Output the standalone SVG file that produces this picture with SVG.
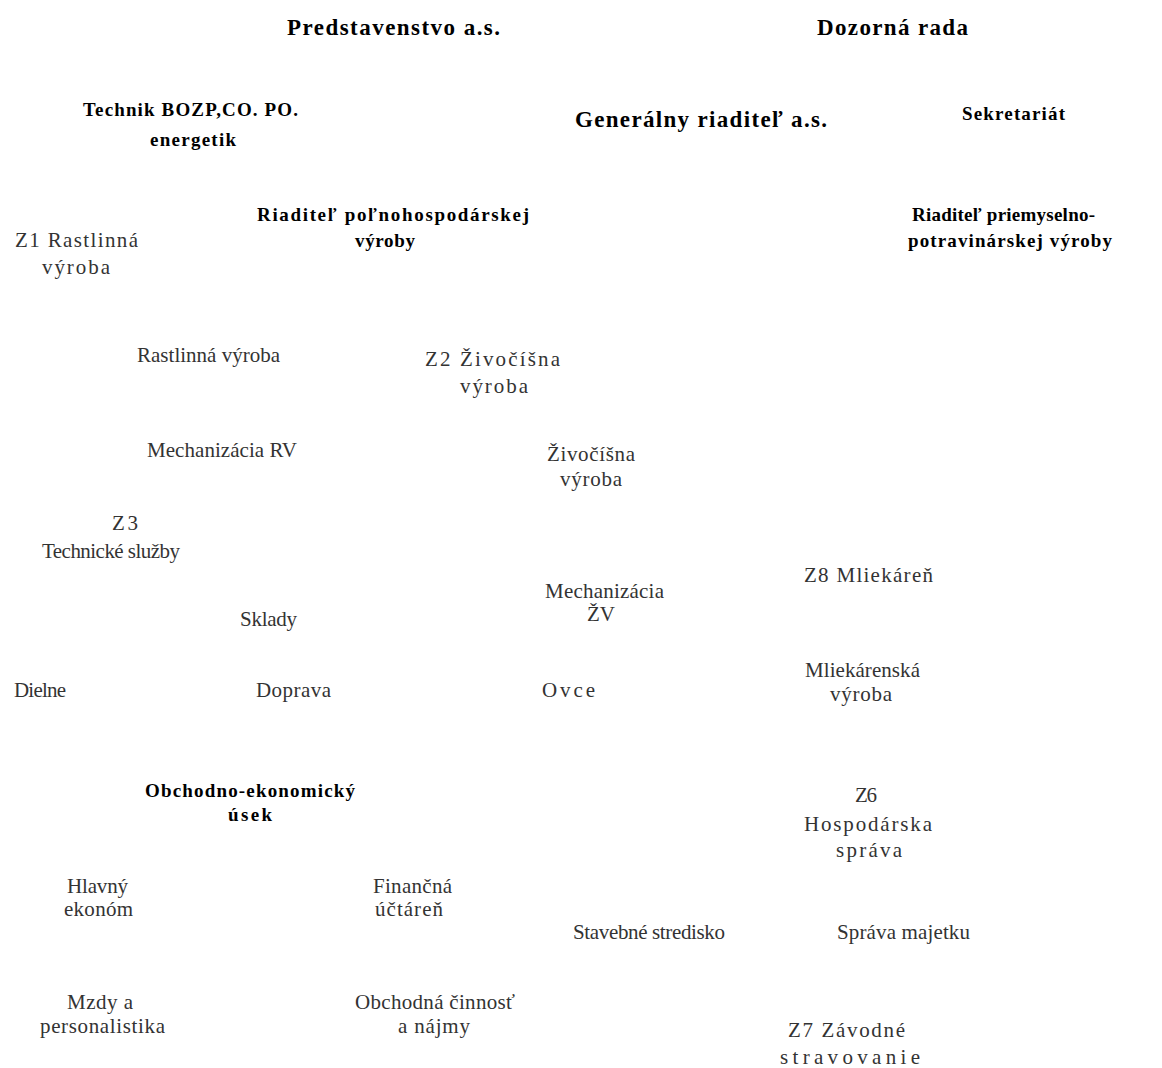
<svg xmlns="http://www.w3.org/2000/svg" width="1162" height="1068" viewBox="0 0 1162 1068">
<style>
text{font-family:"Liberation Serif","Times New Roman",serif;text-anchor:middle}
.h{font-weight:bold;font-size:23px;fill:#000}
.b{font-weight:bold;font-size:19px;fill:#000}
.r{font-size:21px;fill:#333}
</style>
<rect width="1162" height="1068" fill="#fff"/>
<g id="connectors"/>
<g id="predstavenstvo"><text class="h" x="393.5" y="35" textLength="213" lengthAdjust="spacing">Predstavenstvo a.s.</text></g>
<g id="dozorna-rada"><text class="h" x="892.5" y="35" textLength="151" lengthAdjust="spacing">Dozorná rada</text></g>
<g id="technik"><text class="b" x="190.5" y="116" textLength="215" lengthAdjust="spacing">Technik BOZP,CO. PO.</text><text class="b" x="193" y="146" textLength="86" lengthAdjust="spacing">energetik</text></g>
<g id="gen-riaditel"><text class="h" x="701" y="127" textLength="252" lengthAdjust="spacing">Generálny riaditeľ a.s.</text></g>
<g id="sekretariat"><text class="b" x="1013.5" y="120" textLength="103" lengthAdjust="spacing">Sekretariát</text></g>
<g id="riaditel-pol"><text class="b" x="393" y="221" textLength="272" lengthAdjust="spacing">Riaditeľ poľnohospodárskej</text><text class="b" x="385" y="247" textLength="60" lengthAdjust="spacing">výroby</text></g>
<g id="z1"><text class="r" x="76.5" y="247" textLength="123" lengthAdjust="spacing">Z1 Rastlinná</text><text class="r" x="76" y="274" textLength="68" lengthAdjust="spacing">výroba</text></g>
<g id="riaditel-prie"><text class="b" x="1003.5" y="221" textLength="183" lengthAdjust="spacing">Riaditeľ priemyselno-</text><text class="b" x="1010" y="247" textLength="204" lengthAdjust="spacing">potravinárskej výroby</text></g>
<g id="rastlinna-vyroba"><text class="r" x="208.5" y="362" textLength="143" lengthAdjust="spacing">Rastlinná výroba</text></g>
<g id="z2"><text class="r" x="492.5" y="366" textLength="135" lengthAdjust="spacing">Z2 Živočíšna</text><text class="r" x="494" y="393" textLength="68" lengthAdjust="spacing">výroba</text></g>
<g id="mechanizacia-rv"><text class="r" x="222" y="457" textLength="150" lengthAdjust="spacing">Mechanizácia RV</text></g>
<g id="zivocisna-vyroba"><text class="r" x="591" y="461" textLength="88" lengthAdjust="spacing">Živočíšna</text><text class="r" x="591" y="486" textLength="62" lengthAdjust="spacing">výroba</text></g>
<g id="z3"><text class="r" x="125" y="530" textLength="26" lengthAdjust="spacing">Z3</text><text class="r" x="111" y="558" textLength="138" lengthAdjust="spacing">Technické služby</text></g>
<g id="mechanizacia-zv"><text class="r" x="604.5" y="598" textLength="119" lengthAdjust="spacing">Mechanizácia</text><text class="r" x="601" y="621">ŽV</text></g>
<g id="z8"><text class="r" x="868.5" y="582" textLength="129" lengthAdjust="spacing">Z8 Mliekáreň</text></g>
<g id="sklady"><text class="r" x="268.5" y="626" textLength="57" lengthAdjust="spacing">Sklady</text></g>
<g id="dielne"><text class="r" x="40" y="697" textLength="52" lengthAdjust="spacing">Dielne</text></g>
<g id="doprava"><text class="r" x="293.5" y="697" textLength="75" lengthAdjust="spacing">Doprava</text></g>
<g id="ovce"><text class="r" x="568.5" y="697" textLength="53" lengthAdjust="spacing">Ovce</text></g>
<g id="mliekarenska"><text class="r" x="862.5" y="677" textLength="115" lengthAdjust="spacing">Mliekárenská</text><text class="r" x="861" y="701" textLength="62" lengthAdjust="spacing">výroba</text></g>
<g id="obchodno-ekonomicky"><text class="b" x="250" y="797" textLength="210" lengthAdjust="spacing">Obchodno-ekonomický</text><text class="b" x="250" y="821" textLength="44" lengthAdjust="spacing">úsek</text></g>
<g id="z6"><text class="r" x="866" y="802" textLength="22" lengthAdjust="spacing">Z6</text><text class="r" x="868" y="831" textLength="128" lengthAdjust="spacing">Hospodárska</text><text class="r" x="869" y="857" textLength="66" lengthAdjust="spacing">správa</text></g>
<g id="hlavny-ekonom"><text class="r" x="97.5" y="893" textLength="61" lengthAdjust="spacing">Hlavný</text><text class="r" x="98.5" y="916" textLength="69" lengthAdjust="spacing">ekonóm</text></g>
<g id="financna-uctaren"><text class="r" x="412.5" y="893" textLength="79" lengthAdjust="spacing">Finančná</text><text class="r" x="409" y="916" textLength="68" lengthAdjust="spacing">účtáreň</text></g>
<g id="stavebne-stredisko"><text class="r" x="649" y="939" textLength="152" lengthAdjust="spacing">Stavebné stredisko</text></g>
<g id="sprava-majetku"><text class="r" x="903.5" y="939" textLength="133" lengthAdjust="spacing">Správa majetku</text></g>
<g id="mzdy"><text class="r" x="100" y="1009" textLength="66" lengthAdjust="spacing">Mzdy a</text><text class="r" x="102.5" y="1033" textLength="125" lengthAdjust="spacing">personalistika</text></g>
<g id="obchodna-cinnost"><text class="r" x="435" y="1009" textLength="160" lengthAdjust="spacing">Obchodná činnosť</text><text class="r" x="434" y="1033" textLength="72" lengthAdjust="spacing">a nájmy</text></g>
<g id="z7"><text class="r" x="846.5" y="1037" textLength="117" lengthAdjust="spacing">Z7 Závodné</text><text class="r" x="850" y="1064" textLength="140" lengthAdjust="spacing">stravovanie</text></g>
</svg>
